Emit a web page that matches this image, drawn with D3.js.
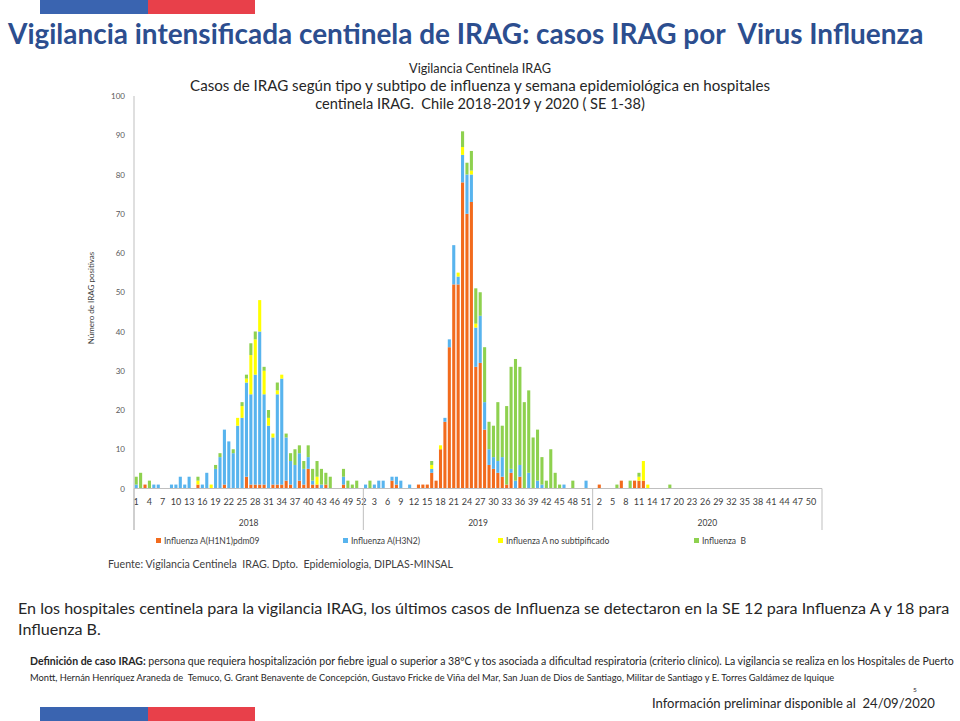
<!DOCTYPE html>
<html><head><meta charset="utf-8">
<script src="https://cdn.jsdelivr.net/npm/d3@7"></script>
<style>body{margin:0;background:#fff}svg{display:block}</style>
</head><body>
<svg id="c" width="960" height="721"></svg>
<script>
// ---------- DATA ----------
const years = ["2018", "2019", "2020"];
const weeksPerYear = 52;
const yTicks = [0, 10, 20, 30, 40, 50, 60, 70, 80, 90, 100];
const seriesNames = ["Influenza A(H1N1)pdm09", "Influenza A(H3N2)", "Influenza A no subtipificado", "Influenza  B"];
const seriesColors = ["#F26B1D", "#58B4EE", "#FFFF00", "#8ED14F"];

// 2018, weeks 1..52
const h1n1_2018 = [0,0,1,0,0,0,0,0,0,0, 0,0,0,0,1,0,0,0,0,0, 1,0,0,0,0,3,1,1,1,1, 0,1,1,1,2,1,0,2,1,5, 1,1,0,1,0,0,0,1,0,0, 0,0];
const h3n2_2018 = [1,0,0,0,1,1,0,0,1,1, 3,1,3,0,0,1,4,0,5,8, 14,12,9,16,18,24,23,28,39,23, 16,12,23,27,11,6,6,7,4,3, 1,0,1,0,0,0,0,2,0,0, 0,0];
const noSub_2018 = [0,0,0,0,0,0,0,0,0,0, 0,0,0,0,1,0,0,1,0,0, 0,0,0,2,3,1,10,9,8,6, 2,1,1,1,0,0,0,0,0,0, 0,2,0,0,0,0,0,0,0,0, 0,0];
const fluB_2018 = [2,4,0,2,0,0,0,0,0,0, 0,0,0,0,1,0,0,0,1,1, 0,0,1,0,1,1,3,2,0,1, 2,0,2,0,1,2,4,2,2,3, 3,4,4,3,3,0,0,2,2,1, 2,0];

// 2019, weeks 1..52
const h1n1_2019 = [0,0,0,0,0,0,2,1,0,0, 0,0,1,1,1,4,2,10,17,36, 52,52,78,70,73,31,32,15,6,5, 4,3,1,4,0,3,0,0,0,0, 0,0,0,0,0,0,0,0,0,0, 0,0];
const h3n2_2019 = [1,0,1,2,2,0,1,2,2,0, 1,0,0,0,0,1,0,0,1,2, 10,2,7,10,7,10,12,7,4,3, 3,5,0,1,2,3,0,4,0,2, 1,0,0,0,0,1,0,0,0,0, 2,0];
const noSub_2019 = [0,0,0,0,0,0,0,0,0,0, 0,0,0,0,0,1,0,1,0,0, 0,1,2,0,1,1,0,0,0,0, 0,0,0,0,0,0,0,0,0,0, 0,0,0,0,0,0,0,0,0,0, 0,0];
const fluB_2019 = [0,2,0,0,0,0,0,0,0,0, 0,0,0,0,0,1,0,0,0,0, 0,0,4,3,5,9,6,14,7,8, 15,8,20,26,31,25,22,21,13,13, 7,2,10,4,1,0,0,2,0,0, 0,0];

// 2020, weeks 1..52
const h1n1_2020 = [0,1,0,0,0,0,2,0,0,2, 2,2,0,0,0,0,0,0,0,0, 0,0,0,0,0,0,0,0,0,0, 0,0,0,0,0,0,0,0,0,0, 0,0,0,0,0,0,0,0,0,0, 0,0];
const h3n2_2020 = [0,0,0,0,0,0,0,0,0,0, 0,0,0,0,0,0,0,0,0,0, 0,0,0,0,0,0,0,0,0,0, 0,0,0,0,0,0,0,0,0,0, 0,0,0,0,0,0,0,0,0,0, 0,0];
const noSub_2020 = [0,0,0,0,0,0,0,0,0,0, 1,5,1,0,0,0,0,0,0,0, 0,0,0,0,0,0,0,0,0,0, 0,0,0,0,0,0,0,0,0,0, 0,0,0,0,0,0,0,0,0,0, 0,0];
const fluB_2020 = [0,0,0,0,0,1,0,0,2,0, 1,0,0,0,0,0,0,1,0,0, 0,0,0,0,0,0,0,0,0,0, 0,0,0,0,0,0,0,0,0,0, 0,0,0,0,0,0,0,0,0,0, 0,0];

const seriesByYear = {
  "2018": [h1n1_2018, h3n2_2018, noSub_2018, fluB_2018],
  "2019": [h1n1_2019, h3n2_2019, noSub_2019, fluB_2019],
  "2020": [h1n1_2020, h3n2_2020, noSub_2020, fluB_2020]
};

// ---------- BUILD TABLE ----------
const rows = [];
years.forEach(yr => {
  for (let w = 1; w <= weeksPerYear; w++) {
    const r = { key: yr + "-" + w, year: yr, week: w };
    seriesByYear[yr].forEach((arr, k) => { r["s" + k] = arr[w - 1]; });
    rows.push(r);
  }
});
const keys = seriesNames.map((_, k) => "s" + k);

// ---------- DRAW ----------
const svg = d3.select("#c");
const FONT = "Lato, 'Open Sans', sans-serif";
svg.append("rect").attr("width", 960).attr("height", 721).attr("fill", "#fff");

function fitText(sel, target) {
  const node = sel.node();
  const w = node.getComputedTextLength();
  const fs = parseFloat(sel.attr("font-size"));
  sel.attr("font-size", (fs * target / w).toFixed(2));
}

// flags
function flag(y, h) {
  svg.append("rect").attr("x", 40).attr("y", y).attr("width", 108).attr("height", h).attr("fill", "#3A64B0");
  svg.append("rect").attr("x", 148).attr("y", y).attr("width", 107).attr("height", h).attr("fill", "#E8404A");
}
flag(0, 14);
flag(707, 14);

// main title
const mt = svg.append("text").attr("x", 8).attr("y", 44)
  .attr("font-family", FONT).attr("font-weight", "bold").attr("font-size", 27)
  .attr("fill", "#2C4E8F").style("white-space", "pre")
  .text("Vigilancia intensificada centinela de IRAG: casos IRAG por  Virus Influenza");
fitText(mt, 916);

// chart titles
const ct = [
  ["Vigilancia Centinela IRAG", 73, 142],
  ["Casos de IRAG según tipo y subtipo de influenza y semana epidemiológica en hospitales", 91, 580],
  ["centinela IRAG.  Chile 2018-2019 y 2020 ( SE 1-38)", 109, 330]
];
ct.forEach(([t, y, w]) => {
  const el = svg.append("text").attr("x", 480).attr("y", y).attr("text-anchor", "middle")
    .attr("font-family", FONT).attr("font-size", 13).attr("fill", "#262626")
    .style("white-space", "pre").text(t);
  fitText(el, w);
});

// scales
const x = d3.scaleBand().domain(rows.map(r => r.key)).range([134, 822]).paddingInner(0.3).paddingOuter(0.15);
const y = d3.scaleLinear().domain([0, 100]).range([488.5, 96]);

// bars
const stacked = d3.stack().keys(keys)(rows);
svg.append("g").selectAll("g").data(stacked).join("g")
  .attr("fill", (d, i) => seriesColors[i])
  .selectAll("rect").data(d => d.filter(s => s[1] > s[0])).join("rect")
  .attr("x", d => x(d.data.key))
  .attr("width", x.bandwidth())
  .attr("y", d => y(d[1]))
  .attr("height", d => y(d[0]) - y(d[1]));

// y axis
const ya = svg.append("g").attr("transform", "translate(134,0)")
  .call(d3.axisLeft(y).tickValues(yTicks).tickSize(0).tickPadding(9));
ya.select(".domain").attr("stroke", "#BFBFBF").attr("d", "M0,96V530");
ya.selectAll("text").attr("font-family", FONT).attr("font-size", 8).attr("fill", "#595959");

svg.append("text").attr("transform", "translate(94,298) rotate(-90)").attr("text-anchor", "middle")
  .attr("font-family", FONT).attr("font-size", 8).attr("fill", "#404040").text("Número de IRAG positivas");

// x axis
const labelKeys = rows.filter((r, i) => i % 3 === 0).map(r => r.key);
const xa = svg.append("g").attr("transform", "translate(0,488.5)")
  .call(d3.axisBottom(x).tickValues(labelKeys).tickSize(0).tickPadding(10)
    .tickFormat(k => k.split("-")[1]));
xa.select(".domain").attr("stroke", "#BFBFBF").attr("d", "M134,0H822");
xa.selectAll("text").attr("font-family", FONT).attr("font-size", 9).attr("fill", "#404040");

// year separators and labels
const boundaries = years.map(yr => x(yr + "-1") - x.step() * 0.15);
boundaries.push(822);
svg.append("g").selectAll("line").data(boundaries).join("line")
  .attr("x1", d => d).attr("x2", d => d).attr("y1", 488.5).attr("y2", 530)
  .attr("stroke", "#BFBFBF");
svg.append("g").selectAll("text").data(years).join("text")
  .attr("x", (yr, i) => (boundaries[i] + boundaries[i + 1]) / 2).attr("y", 526)
  .attr("text-anchor", "middle").attr("font-family", FONT).attr("font-size", 8.5).attr("fill", "#404040")
  .text(d => d);

// legend
const legX = [156, 343, 498, 694];
const lg = svg.append("g").selectAll("g").data(seriesNames).join("g")
  .attr("transform", (d, i) => `translate(${legX[i]},541)`);
lg.append("rect").attr("x", 0).attr("y", -3).attr("width", 5).attr("height", 5).attr("fill", (d, i) => seriesColors[i]);
lg.append("text").attr("x", 8).attr("y", 3).attr("font-family", FONT).attr("font-size", 8.5)
  .attr("fill", "#404040").style("white-space", "pre").text(d => d);

// source
const src = svg.append("text").attr("x", 108).attr("y", 568).attr("font-family", FONT).attr("font-size", 8)
  .attr("fill", "#404040").style("white-space", "pre")
  .text("Fuente: Vigilancia Centinela  IRAG. Dpto.  Epidemiologia, DIPLAS-MINSAL");
fitText(src, 345);

// paragraph
const p1 = svg.append("text").attr("x", 18).attr("y", 614).attr("font-family", FONT).attr("font-size", 14)
  .attr("fill", "#262626")
  .text("En los hospitales centinela para la vigilancia IRAG, los últimos casos de Influenza se detectaron en la SE 12 para Influenza A y 18 para");
fitText(p1, 932);
svg.append("text").attr("x", 18).attr("y", 635).attr("font-family", FONT).attr("font-size", p1.attr("font-size"))
  .attr("fill", "#262626").text("Influenza B.");

// definition
const d1 = svg.append("text").attr("x", 30).attr("y", 665).attr("font-family", FONT).attr("font-size", 8).attr("fill", "#262626");
d1.append("tspan").attr("font-weight", "bold").text("Definición de caso IRAG: ");
d1.append("tspan").text("persona que requiera hospitalización por fiebre igual o superior a 38ºC y tos asociada a dificultad respiratoria (criterio clínico). La vigilancia se realiza en los Hospitales de Puerto");
fitText(d1, 925);
const d2 = svg.append("text").attr("x", 30).attr("y", 681).attr("font-family", FONT).attr("font-size", 8).attr("fill", "#262626")
  .style("white-space", "pre")
  .text("Montt, Hernán Henríquez Araneda de  Temuco, G. Grant Benavente de Concepción, Gustavo Fricke de Viña del Mar, San Juan de Dios de Santiago, Militar de Santiago y E. Torres Galdámez de Iquique");
fitText(d2, 805);

// footer info
const inf = svg.append("text").attr("x", 652).attr("y", 708).attr("font-family", FONT).attr("font-size", 12)
  .attr("fill", "#262626").style("white-space", "pre").text("Información preliminar disponible al  24/09/2020");
fitText(inf, 283);
svg.append("text").attr("x", 913).attr("y", 692).attr("font-family", FONT).attr("font-size", 6.5)
  .attr("fill", "#262626").text("5");
</script>
</body></html>
